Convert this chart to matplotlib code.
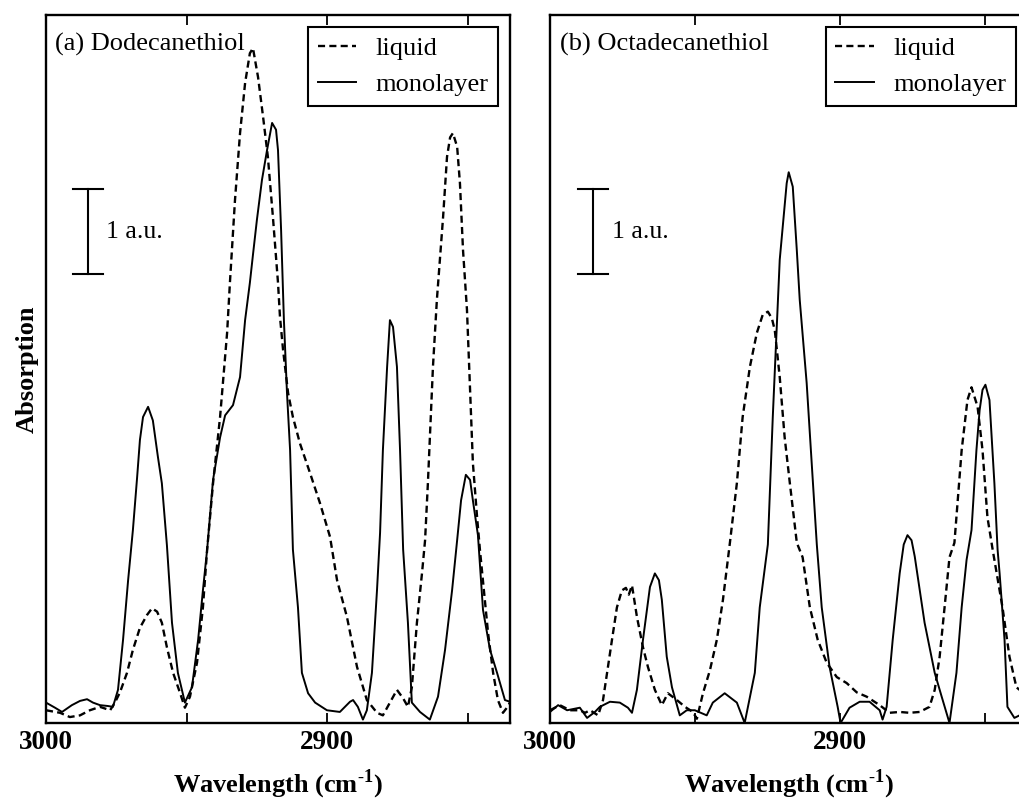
import matplotlib
matplotlib.use("Agg")
import matplotlib.pyplot as plt
from matplotlib.ticker import FixedLocator

plt.rcParams["font.family"] = ["Liberation Serif", "DejaVu Serif"]
plt.rcParams["mathtext.fontset"] = "custom"
plt.rcParams["mathtext.rm"] = "Liberation Serif"
plt.rcParams["mathtext.bf"] = "Liberation Serif:bold"

# ---- spectra: wavenumber (cm^-1) and absorption (a.u.) ----
dod_liq_wn = [3000.0, 2995.0, 2991.5, 2987.9, 2984.4, 2980.8, 2977.2, 2975.5, 2973.7, 2971.2,
              2969.1, 2966.6, 2964.1, 2962.3, 2960.5, 2958.8, 2957.0, 2954.8, 2952.3, 2950.6,
              2948.8, 2946.3, 2944.2, 2942.7, 2940.6, 2938.1, 2935.6, 2934.6, 2932.8, 2931.0,
              2929.2, 2927.5, 2926.4, 2924.6, 2922.8, 2921.1, 2919.3, 2917.5, 2916.8, 2915.7,
              2913.9, 2912.2, 2909.7, 2906.1, 2902.6, 2899.0, 2896.5, 2893.0, 2889.4, 2885.9,
              2882.3, 2880.2, 2877.7, 2875.2, 2873.0, 2871.3, 2869.9, 2868.1, 2866.3, 2865.2,
              2864.2, 2862.4, 2861.0, 2858.8, 2857.4, 2856.3, 2855.3, 2853.8, 2852.8, 2851.7,
              2850.3, 2849.2, 2848.2, 2846.7, 2845.7, 2842.8, 2841.0, 2839.3, 2837.5, 2836.1,
              2835.0]
dod_liq_abs = [0.15, 0.12, 0.07, 0.09, 0.15, 0.19, 0.15, 0.24, 0.36, 0.59,
               0.86, 1.12, 1.27, 1.35, 1.31, 1.18, 0.89, 0.59, 0.35, 0.18,
               0.31, 0.71, 1.36, 2.04, 2.82, 3.60, 4.59, 5.18, 6.15, 6.94,
               7.53, 7.88, 7.94, 7.60, 7.13, 6.66, 5.95, 5.18, 4.78, 4.39,
               3.88, 3.60, 3.29, 2.94, 2.59, 2.19, 1.68, 1.25, 0.66, 0.27,
               0.12, 0.09, 0.24, 0.39, 0.29, 0.19, 0.42, 1.18, 1.76, 2.15,
               2.82, 4.19, 4.98, 5.95, 6.66, 6.89, 6.94, 6.78, 6.35, 5.56,
               4.86, 3.92, 3.06, 2.42, 2.04, 1.06, 0.59, 0.27, 0.12, 0.18,
               0.24]

dod_mono_wn = [3000.0, 2996.8, 2994.3, 2990.8, 2987.9, 2985.4, 2983.3, 2980.8, 2978.0, 2976.2,
               2974.4, 2972.6, 2970.8, 2969.1, 2967.6, 2966.6, 2965.5, 2963.7, 2962.0, 2960.2,
               2958.8, 2957.0, 2955.2, 2953.1, 2950.6, 2948.1, 2945.9, 2944.2, 2942.7, 2940.6,
               2938.1, 2936.3, 2933.5, 2931.0, 2929.2, 2927.5, 2926.4, 2925.0, 2923.2, 2921.4,
               2919.6, 2918.2, 2917.5, 2916.4, 2915.4, 2914.3, 2913.2, 2912.2, 2910.4, 2909.0,
               2906.8, 2904.3, 2900.1, 2895.5, 2891.9, 2890.8, 2889.1, 2887.3, 2885.9, 2884.1,
               2882.3, 2881.2, 2880.2, 2878.7, 2877.7, 2876.6, 2875.2, 2874.1, 2873.0, 2871.3,
               2869.9, 2867.0, 2863.5, 2860.6, 2858.1, 2855.6, 2853.8, 2852.4, 2850.7, 2849.2,
               2848.2, 2846.4, 2844.6, 2842.1, 2839.6, 2836.8, 2835.0]
dod_mono_abs = [0.24, 0.18, 0.13, 0.21, 0.26, 0.28, 0.24, 0.21, 0.20, 0.19,
                0.39, 0.98, 1.68, 2.27, 2.89, 3.33, 3.60, 3.72, 3.56, 3.13,
                2.82, 2.09, 1.18, 0.59, 0.24, 0.42, 0.98, 1.56, 2.04, 2.86,
                3.36, 3.62, 3.74, 4.07, 4.74, 5.18, 5.51, 5.92, 6.39, 6.74,
                7.06, 6.98, 6.74, 5.80, 4.74, 3.88, 3.21, 2.04, 1.36, 0.59,
                0.35, 0.24, 0.15, 0.13, 0.25, 0.27, 0.19, 0.04, 0.15, 0.59,
                1.56, 2.24, 3.21, 4.19, 4.74, 4.66, 4.19, 3.21, 2.04, 1.18,
                0.24, 0.13, 0.04, 0.31, 0.86, 1.56, 2.15, 2.62, 2.92, 2.86,
                2.62, 2.21, 1.33, 0.86, 0.59, 0.27, 0.25]

oct_liq_wn = [3000.0, 2996.6, 2993.1, 2989.7, 2987.9, 2986.2, 2983.4, 2981.7, 2980.3, 2978.6,
              2976.9, 2975.2, 2973.8, 2972.8, 2971.7, 2970.0, 2967.9, 2966.2, 2963.8, 2961.4,
              2959.3, 2956.2, 2953.4, 2950.7, 2949.3, 2947.2, 2944.8, 2942.4, 2940.3, 2937.9,
              2935.5, 2933.5, 2931.0, 2928.6, 2926.6, 2924.8, 2923.4, 2922.4, 2920.7, 2919.0,
              2917.2, 2914.8, 2912.8, 2910.3, 2907.6, 2904.5, 2901.0, 2897.6, 2894.1, 2890.7,
              2886.2, 2882.8, 2879.3, 2875.9, 2872.4, 2869.0, 2867.2, 2865.5, 2863.8, 2862.1,
              2860.4, 2857.9, 2855.9, 2854.5, 2852.4, 2850.7, 2849.0, 2847.2, 2843.8, 2841.4,
              2839.0, 2837.9, 2835.0]
oct_liq_abs = [0.15, 0.21, 0.15, 0.15, 0.12, 0.15, 0.09, 0.27, 0.59, 0.98,
               1.36, 1.56, 1.59, 1.51, 1.62, 1.25, 0.89, 0.66, 0.39, 0.21,
               0.35, 0.27, 0.19, 0.13, 0.05, 0.35, 0.62, 0.98, 1.45, 2.12,
               2.82, 3.60, 4.19, 4.59, 4.80, 4.84, 4.76, 4.62, 4.07, 3.36,
               2.82, 2.12, 1.95, 1.36, 0.98, 0.71, 0.54, 0.47, 0.36, 0.31,
               0.21, 0.12, 0.13, 0.12, 0.13, 0.19, 0.39, 0.78, 1.36, 1.95,
               2.12, 3.21, 3.80, 3.95, 3.72, 3.21, 2.42, 2.04, 1.36, 0.78,
               0.42, 0.39, 0.35]

oct_mono_wn = [3000.0, 2997.2, 2994.1, 2989.7, 2987.2, 2984.5, 2982.8, 2979.3, 2975.9, 2973.1,
               2971.7, 2970.0, 2967.9, 2965.5, 2963.8, 2962.4, 2961.4, 2959.7, 2957.9, 2955.2,
               2952.8, 2950.0, 2945.9, 2943.8, 2939.7, 2935.5, 2932.8, 2929.3, 2927.6, 2924.8,
               2923.1, 2920.7, 2918.3, 2917.6, 2916.2, 2914.8, 2913.8, 2911.4, 2907.9, 2906.2,
               2903.5, 2900.7, 2899.7, 2896.6, 2893.1, 2889.7, 2886.2, 2885.2, 2883.8, 2881.7,
               2879.3, 2877.9, 2876.6, 2875.2, 2874.1, 2870.7, 2867.2, 2864.8, 2862.1, 2859.7,
               2857.9, 2856.2, 2854.5, 2852.8, 2851.7, 2850.7, 2849.7, 2848.3, 2846.6, 2845.5,
               2844.8, 2843.1, 2842.1, 2839.7, 2837.9, 2835.0]
oct_mono_abs = [0.13, 0.21, 0.15, 0.18, 0.06, 0.13, 0.19, 0.25, 0.24, 0.18,
                0.12, 0.39, 0.98, 1.60, 1.76, 1.68, 1.45, 0.78, 0.42, 0.09,
                0.15, 0.15, 0.09, 0.24, 0.35, 0.24, 0.00, 0.59, 1.36, 2.10,
                3.60, 5.45, 6.35, 6.48, 6.31, 5.56, 4.98, 4.00, 2.10, 1.36,
                0.66, 0.19, 0.00, 0.18, 0.25, 0.25, 0.15, 0.04, 0.19, 0.98,
                1.76, 2.10, 2.21, 2.15, 1.96, 1.18, 0.59, 0.31, 0.00, 0.59,
                1.36, 1.92, 2.27, 3.21, 3.68, 3.92, 3.98, 3.80, 2.82, 2.04,
                1.76, 0.98, 0.19, 0.06, 0.09, 0.12]

# axis ticks and scale bar
major_ticks = [3000, 2900]
major_labels = ["3000", "2900"]
minor_ticks = [2950, 2850]
scale_bar_au = 1.0
series_labels = ["liquid", "monolayer"]
panel_titles = ["(a) Dodecanethiol", "(b) Octadecanethiol"]

W, H = 1020, 801
fig = plt.figure(figsize=(W / 100, H / 100), dpi=100)
fig.patch.set_facecolor("white")

ax_a = fig.add_axes([46 / W, 78 / H, 464 / W, 708 / H])
ax_b = fig.add_axes([550 / W, 78 / H, 478 / W, 708 / H])

panels = [
    (ax_a, dod_liq_wn, dod_liq_abs, dod_mono_wn, dod_mono_abs, panel_titles[0]),
    (ax_b, oct_liq_wn, oct_liq_abs, oct_mono_wn, oct_mono_abs, panel_titles[1]),
]

for ax, lw_x, lw_y, mw_x, mw_y, title in panels:
    l1, = ax.plot(lw_x, lw_y, color="black", lw=1.7, dashes=(3.0, 1.8),
                  label=series_labels[0], solid_joinstyle="round")
    l2, = ax.plot(mw_x, mw_y, color="black", lw=1.4, label=series_labels[1],
                  solid_joinstyle="round")

    ax.set_xlim(3000, 2835)
    ax.set_ylim(0, 8.33)
    ax.set_yticks([])
    ax.xaxis.set_major_locator(FixedLocator(major_ticks))
    ax.xaxis.set_minor_locator(FixedLocator(minor_ticks))
    ax.set_xticklabels(major_labels, fontweight="bold")
    ax.tick_params(axis="x", which="both", direction="in", top=True, bottom=True,
                   length=7, width=1.3)
    ax.tick_params(axis="x", which="major", labelsize=19.5, pad=5)
    for s in ax.spines.values():
        s.set_linewidth(1.7)

    ax.set_xlabel(r"Wavelength (cm$^{\mathbf{\text{-}1}}$)", fontsize=19,
                  fontweight="bold", labelpad=9)

    ax.text(0.02, 0.95, title, transform=ax.transAxes, fontsize=19, va="baseline",
            ha="left")

    # 1 a.u. scale bar
    bx, half = 2985.1, 5.2
    y0 = 5.28
    ax.plot([bx, bx], [y0, y0 + scale_bar_au], color="black", lw=1.5)
    ax.plot([bx - half, bx + half], [y0, y0], color="black", lw=1.5)
    ax.plot([bx - half, bx + half], [y0 + scale_bar_au] * 2, color="black", lw=1.5)
    ax.text(2978.7, y0 + scale_bar_au / 2, "1 a.u.", fontsize=18.5, va="center", ha="left")

    leg = ax.legend(handles=[l1, l2], loc="upper right", bbox_to_anchor=(0.974, 0.983),
                    borderaxespad=0, frameon=True, fancybox=False, edgecolor="black",
                    framealpha=1, fontsize=19, handlelength=1.45, handletextpad=0.75,
                    borderpad=0.35, labelspacing=0.5)
    leg.get_frame().set_linewidth(1.5)

ax_a.set_ylabel("Absorption", fontsize=19, fontweight="bold", labelpad=5)

fig.savefig("out.png", dpi=100, facecolor="white")
